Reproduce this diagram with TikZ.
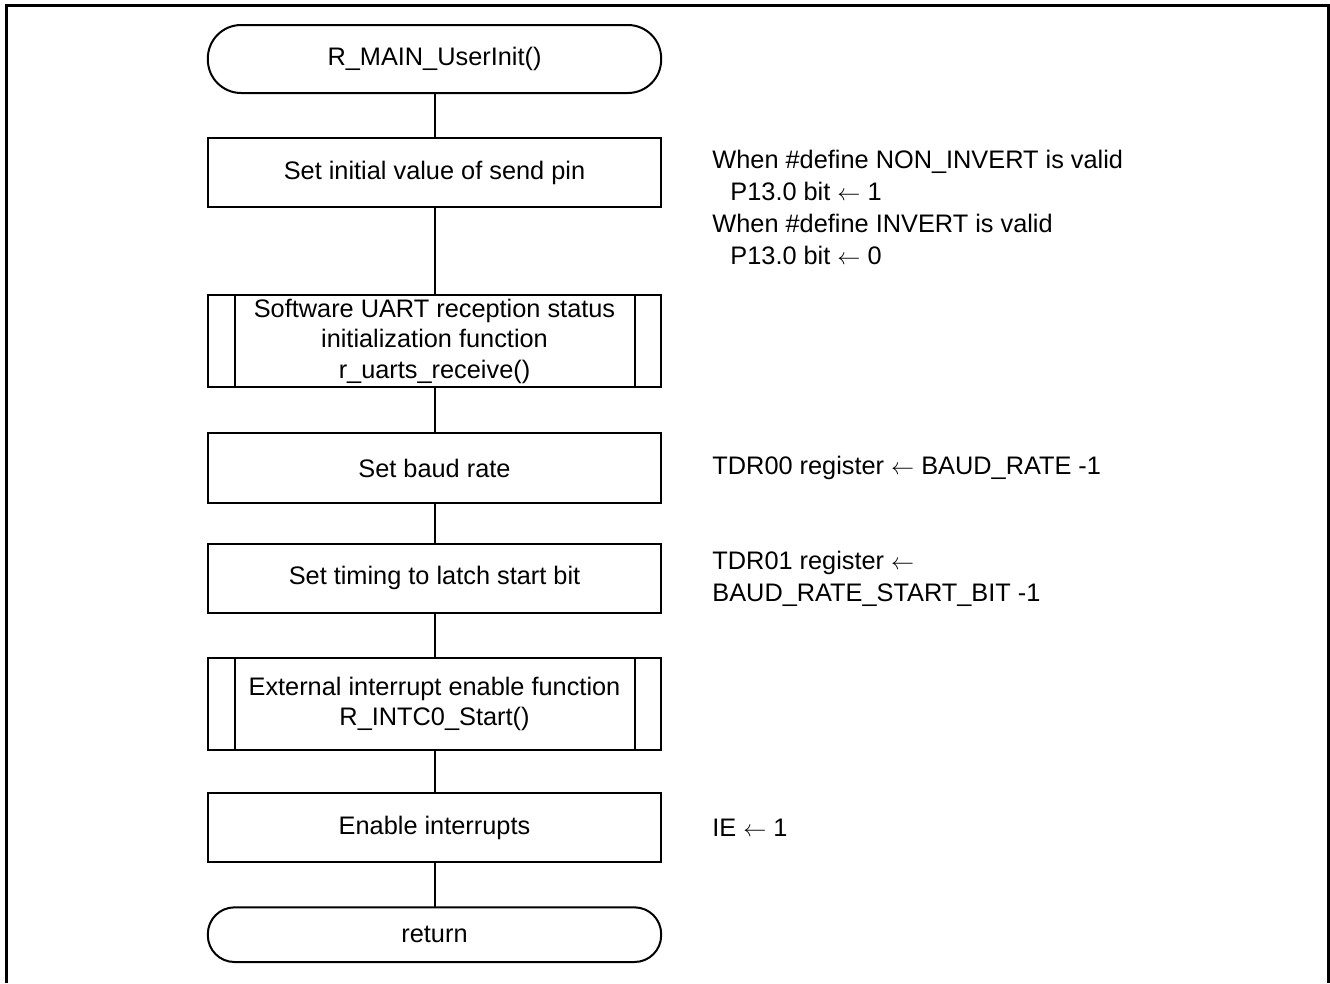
\documentclass[tikz,border=0pt]{standalone}
\usepackage{fontspec}
\setmainfont{Liberation Sans}
\usetikzlibrary{positioning}

\begin{document}
\begin{tikzpicture}[
  x=0.75pt, y=-0.75pt,
  font=\fontsize{19}{23}\selectfont,
  frame/.style={line width=2.25pt},
  terminal/.style={draw, line width=1.5pt, align=center, inner sep=0pt, outer sep=0pt,
    minimum width=340pt, minimum height=51pt, rounded corners=25pt},
  proc/.style={draw, line width=1.5pt, align=center, inner sep=0pt, outer sep=0pt,
    minimum width=340pt, minimum height=52pt},
  subproc/.style={proc, minimum height=69pt},
  note/.style={align=left, inner sep=0pt, font=\fontsize{19}{24}\selectfont},
  line/.style={line width=1.5pt}
]
  \useasboundingbox (0,0) rectangle (1330,983);
  \draw[frame] (6.5,983) -- (6.5,5.5) -- (1328.5,5.5) -- (1328.5,983);

  \node[terminal] (t0) at (434.5,59) {R\_MAIN\_UserInit()};
  \node[proc, below=33.75pt of t0] (b1) {Set initial value of send pin};
  \node[subproc, below=66pt of b1] (b2) {Software UART reception status\\initialization function\\r\_uarts\_receive()};
  \node[proc, below=34.5pt of b2] (b3) {Set baud rate};
  \node[proc, below=30.75pt of b3] (b4) {Set timing to latch start bit};
  \node[subproc, below=33.75pt of b4] (b5) {External interrupt enable function\\R\_INTC0\_Start()};
  \node[proc, below=32.25pt of b5] (b6) {Enable interrupts};
  \node[terminal, below=33.75pt of b6, minimum height=41pt, rounded corners=20pt] (t1) {return};

  % side bars of the function-call boxes
  \foreach \b in {b2,b5} {
    \draw[line] ([xshift=20pt]\b.north west) -- ([xshift=20pt]\b.south west);
    \draw[line] ([xshift=-20pt]\b.north east) -- ([xshift=-20pt]\b.south east);
  }

  \draw[line] (t0) -- (b1);
  \draw[line] (b1) -- (b2);
  \draw[line] (b2) -- (b3);
  \draw[line] (b3) -- (b4);
  \draw[line] (b4) -- (b5);
  \draw[line] (b5) -- (b6);
  \draw[line] (b6) -- (t1);

  % register notes
  \node[note, right=38.25pt of b1.south east] (n1) {When \#define NON\_INVERT is valid\\
    \hspace*{13.5pt}P13.0 bit $\leftarrow$ 1\\
    When \#define INVERT is valid\\
    \hspace*{13.5pt}P13.0 bit $\leftarrow$ 0};
  \node[note, right=38.25pt of b3.east] (n3) {TDR00 register $\leftarrow$ BAUD\_RATE -1};
  \node[note, right=38.25pt of b4.east] (n4) {TDR01 register $\leftarrow$\\BAUD\_RATE\_START\_BIT -1};
  \node[note, right=38.25pt of b6.east] (n6) {IE $\leftarrow$ 1};
\end{tikzpicture}
\end{document}
